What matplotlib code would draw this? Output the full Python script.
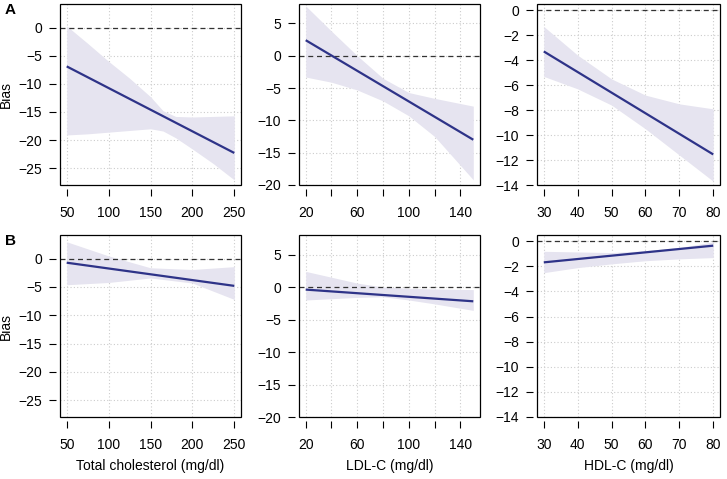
import matplotlib
matplotlib.use("Agg")
import matplotlib.pyplot as plt
from matplotlib.patches import Rectangle

plt.rcParams['font.family'] = ['Liberation Sans', 'DejaVu Sans']
plt.rcParams['font.size'] = 10

# ---- data ----
xlabels = ["Total cholesterol (mg/dl)", "LDL-C (mg/dl)", "HDL-C (mg/dl)"]
panel_letters = ["A", "B"]

# Row A
a1_line_x = [50, 250]
a1_line_y = [-6.9, -22.3]
a1_band_x = [50, 75, 100, 125, 150, 165, 180, 200, 225, 250]
a1_band_hi = [0.3, -2.8, -6.0, -9.0, -12.3, -14.8, -15.8, -15.9, -15.8, -15.7]
a1_band_lo = [-19.1, -18.9, -18.6, -18.3, -18.0, -18.4, -19.6, -21.6, -24.2, -27.1]

a2_line_x = [20, 150]
a2_line_y = [2.4, -13.0]
a2_band_x = [20, 40, 60, 80, 100, 120, 150]
a2_band_hi = [7.7, 3.8, 0.0, -3.5, -5.7, -6.6, -7.8]
a2_band_lo = [-3.3, -4.1, -5.3, -7.0, -9.3, -12.5, -19.2]

a3_line_x = [30, 80]
a3_line_y = [-3.3, -11.55]
a3_band_x = [30, 40, 50, 60, 70, 80]
a3_band_hi = [-1.3, -3.6, -5.5, -6.8, -7.5, -7.9]
a3_band_lo = [-5.3, -6.3, -7.6, -9.5, -11.6, -13.7]

# Row B
b1_line_x = [50, 250]
b1_line_y = [-0.7, -4.8]
b1_band_x = [50, 100, 150, 200, 250]
b1_band_hi = [3.0, 0.5, -1.6, -1.9, -1.4]
b1_band_lo = [-4.6, -4.2, -3.4, -4.3, -7.2]

b2_line_x = [20, 150]
b2_line_y = [-0.4, -2.2]
b2_band_x = [20, 40, 60, 80, 100, 120, 150]
b2_band_hi = [2.4, 1.5, 0.6, 0.0, -0.2, -0.3, -0.4]
b2_band_lo = [-2.0, -1.8, -1.6, -1.5, -2.0, -2.6, -3.6]

b3_line_x = [30, 80]
b3_line_y = [-1.68, -0.35]
b3_band_x = [30, 40, 50, 60, 70, 80]
b3_band_hi = [-0.8, -0.85, -0.9, -0.75, -0.5, -0.05]
b3_band_lo = [-2.5, -2.1, -1.8, -1.55, -1.4, -1.3]

# axis ticks per column
col_xticks = [[50, 100, 150, 200, 250],
              [20, 40, 60, 80, 100, 120, 140],
              [30, 40, 50, 60, 70, 80]]
col_xticklabels = [["50", "100", "150", "200", "250"],
                   ["20", "", "60", "", "100", "", "140"],
                   ["30", "40", "50", "60", "70", "80"]]
col_yticks = [[-25, -20, -15, -10, -5, 0],
              [-20, -15, -10, -5, 0, 5],
              [-14, -12, -10, -8, -6, -4, -2, 0]]
col_xlim = [(42, 258), (14.8, 155.2), (28, 82)]
col_ylim = [(-28, 4.2), (-20, 8), (-14, 0.5)]

panels = [
    [(a1_line_x, a1_line_y, a1_band_x, a1_band_hi, a1_band_lo),
     (a2_line_x, a2_line_y, a2_band_x, a2_band_hi, a2_band_lo),
     (a3_line_x, a3_line_y, a3_band_x, a3_band_hi, a3_band_lo)],
    [(b1_line_x, b1_line_y, b1_band_x, b1_band_hi, b1_band_lo),
     (b2_line_x, b2_line_y, b2_band_x, b2_band_hi, b2_band_lo),
     (b3_line_x, b3_line_y, b3_band_x, b3_band_hi, b3_band_lo)],
]

W, H = 727, 479
fig = plt.figure(figsize=(W / 100, H / 100), dpi=100)

col_lr = [(60, 241), (299, 480), (537, 720)]
row_tb = [(4, 185), (235, 417)]

band_color = "#E6E4F0"
line_color = "#2E3388"

for r in range(2):
    for c in range(3):
        l, rr = col_lr[c]
        t, b = row_tb[r]
        ax = fig.add_axes([l / W, 1 - b / H, (rr - l) / W, (b - t) / H])
        lx, ly, bx, bhi, blo = panels[r][c]
        ax.fill_between(bx, blo, bhi, color=band_color, lw=0, zorder=1)
        ax.plot(lx, ly, color=line_color, lw=1.6, zorder=3, solid_capstyle='butt')
        ax.axhline(0, color="#333333", lw=0.9, ls=(0, (4, 3)), zorder=2)
        ax.set_xlim(*col_xlim[c])
        ax.set_ylim(*col_ylim[c])
        ax.set_xticks(col_xticks[c])
        ax.set_xticklabels(col_xticklabels[c])
        ax.set_yticks(col_yticks[c])
        ax.set_yticklabels([("\u2212" + str(-v)) if v < 0 else str(v) for v in col_yticks[c]])
        ax.grid(True, color="#cccccc", ls=(0, (1, 2)), lw=0.8, zorder=0)
        ax.set_axisbelow(True)
        for s in ["top", "right"]:
            ax.spines[s].set_visible(False)
        for s in ["left", "bottom"]:
            ax.spines[s].set_position(("outward", 3))
            ax.spines[s].set_color("none")
        ax.tick_params(axis="x", direction="out", length=5, width=0.8, pad=7, labelsize=10)
        ax.tick_params(axis="y", direction="out", length=5, width=0.8, pad=5, labelsize=10)
        ax.add_patch(Rectangle((0, 0), 1, 1, transform=ax.transAxes, fill=False,
                               ec="black", lw=0.9, zorder=6, clip_on=False))
        if c == 0:
            ax.set_ylabel("Bias", fontsize=10)
            ax.yaxis.set_label_coords(-0.26, 0.5)
        if r == 1:
            ax.set_xlabel(xlabels[c], fontsize=10, labelpad=5)

fig.text(5 / W, 1 - 10 / H, panel_letters[0], fontsize=11, fontweight="bold", va="center", ha="left")
fig.text(5 / W, 1 - 241 / H, panel_letters[1], fontsize=11, fontweight="bold", va="center", ha="left")

fig.savefig("out.png", dpi=100)
